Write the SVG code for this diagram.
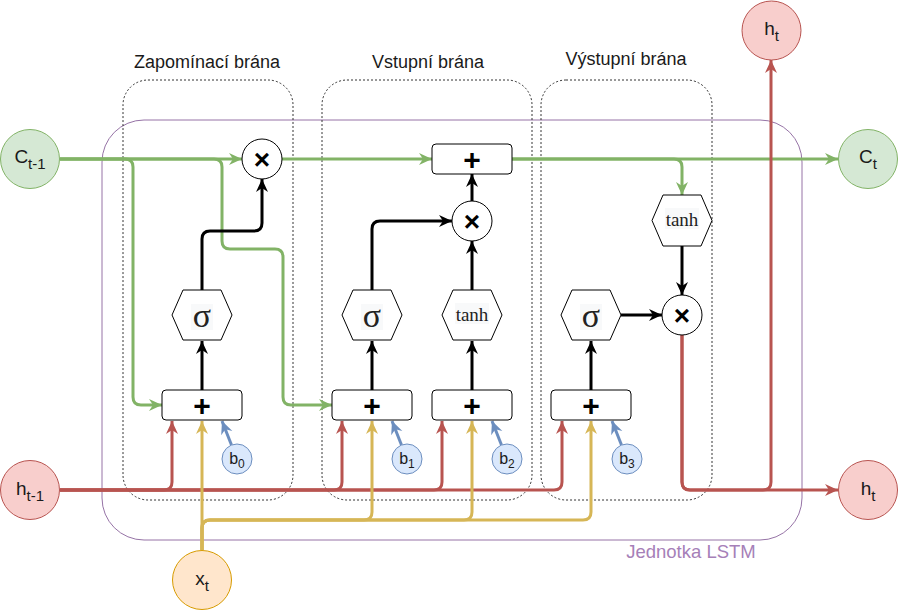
<svg xmlns="http://www.w3.org/2000/svg" width="899" height="611" viewBox="0 0 899 611">
<style>
.t{font-family:"Liberation Sans",Arial,sans-serif;fill:#1a1a1a}
.lbl{font-size:18px;text-anchor:middle}
.var{font-size:19px;text-anchor:middle}
.sub{font-size:15px}
.bias{font-size:16px;text-anchor:middle}
.bsub{font-size:12px}
.op{font-size:30px;font-weight:bold;text-anchor:middle;fill:#000}
.mul{font-size:28px;font-weight:bold;text-anchor:middle;fill:#000}
.ser{font-family:"Liberation Serif","Times New Roman",serif;fill:#222;text-anchor:middle}
.gate{fill:none;stroke:#333;stroke-width:1;stroke-dasharray:2 2}
.box{fill:#fff;stroke:#000;stroke-width:1}
.hex{fill:#fff;stroke:#000;stroke-width:1}
.bg{fill:#f8f9fa}
.e{fill:none;stroke-width:3;stroke-linejoin:round}
.g{stroke:#82b366}.k{stroke:#000}.r{stroke:#b85450}.y{stroke:#d6b656}.b{stroke:#6c8ebf}
</style>
<defs>
<marker id="ag" markerUnits="userSpaceOnUse" markerWidth="14" markerHeight="14" viewBox="0 0 14 14" refX="13" refY="7" orient="auto"><path d="M0,1 L13,7 L0,13 L4,7 z" fill="#82b366"/></marker>
<marker id="ak" markerUnits="userSpaceOnUse" markerWidth="14" markerHeight="14" viewBox="0 0 14 14" refX="13" refY="7" orient="auto"><path d="M0,1 L13,7 L0,13 L4,7 z" fill="#000"/></marker>
<marker id="ar" markerUnits="userSpaceOnUse" markerWidth="14" markerHeight="14" viewBox="0 0 14 14" refX="13" refY="7" orient="auto"><path d="M0,1 L13,7 L0,13 L4,7 z" fill="#b85450"/></marker>
<marker id="ay" markerUnits="userSpaceOnUse" markerWidth="14" markerHeight="14" viewBox="0 0 14 14" refX="13" refY="7" orient="auto"><path d="M0,1 L13,7 L0,13 L4,7 z" fill="#d6b656"/></marker>
<marker id="ab" markerUnits="userSpaceOnUse" markerWidth="14" markerHeight="14" viewBox="0 0 14 14" refX="13" refY="7" orient="auto"><path d="M0,1 L13,7 L0,13 L4,7 z" fill="#6c8ebf"/></marker>
</defs>
<rect width="899" height="611" fill="#fff"/>

<g id="lstm-unit">
<rect x="102" y="120" width="700" height="420" rx="42" fill="none" stroke="#9673a6" stroke-width="1"/>
<text class="t" x="691" y="558" font-size="18.5" text-anchor="middle" style="fill:#a680b8">Jednotka LSTM</text>
</g>
<g id="forget-gate">
<rect class="gate" x="123" y="80" width="170" height="420" rx="25"/>
<text class="t lbl" x="207" y="68">Zapomínací brána</text>
</g>
<g id="input-gate">
<rect class="gate" x="322" y="80" width="210" height="420" rx="25"/>
<text class="t lbl" x="428" y="68">Vstupní brána</text>
</g>
<g id="output-gate">
<rect class="gate" x="541" y="80" width="171" height="420" rx="25"/>
<text class="t lbl" x="626" y="65">Výstupní brána</text>
</g>

<g id="connectors">
<path class="e g" d="M60,159 H242" marker-end="url(#ag)"/>
<path class="e g" d="M60,159 H125 Q133,159 133,167 V397 Q133,405 141,405 H162" marker-end="url(#ag)"/>
<path class="e g" d="M60,159 H214 Q222,159 222,167 V241 Q222,249 230,249 H275 Q283,249 283,257 V397 Q283,405 291,405 H332" marker-end="url(#ag)"/>
<path class="e g" d="M282,159 H432" marker-end="url(#ag)"/>
<path class="e g" d="M512,159 H838" marker-end="url(#ag)"/>
<path class="e g" d="M512,159 H674 Q682,159 682,167 V195" marker-end="url(#ag)"/>

<path class="e k" d="M202,390 V341" marker-end="url(#ak)"/>
<path class="e k" d="M202,290 V239 Q202,231 210,231 H254 Q262,231 262,223 V179" marker-end="url(#ak)"/>
<path class="e k" d="M372,390 V341" marker-end="url(#ak)"/>
<path class="e k" d="M372,290 V229 Q372,221 380,221 H452" marker-end="url(#ak)"/>
<path class="e k" d="M472,390 V341" marker-end="url(#ak)"/>
<path class="e k" d="M472,290 V241" marker-end="url(#ak)"/>
<path class="e k" d="M472,201 V174" marker-end="url(#ak)"/>
<path class="e k" d="M591,390 V341" marker-end="url(#ak)"/>
<path class="e k" d="M621,315 H662" marker-end="url(#ak)"/>
<path class="e k" d="M682,246 V295" marker-end="url(#ak)"/>

<path class="e r" d="M60,490 H164 Q172,490 172,482 V421" marker-end="url(#ar)"/>
<path class="e r" d="M60,490 H334 Q342,490 342,482 V421" marker-end="url(#ar)"/>
<path class="e r" d="M60,490 H434 Q442,490 442,482 V421" marker-end="url(#ar)"/>
<path class="e r" d="M60,490 H554 Q562,490 562,482 V421" marker-end="url(#ar)"/>
<path class="e r" d="M682,335 V482 Q682,490 690,490 H838" marker-end="url(#ar)"/>
<path class="e r" d="M682,335 V482 Q682,490 690,490 H763 Q771,490 771,482 V60" marker-end="url(#ar)"/>

<path class="e y" d="M202,550 V421" marker-end="url(#ay)"/>
<path class="e y" d="M202,550 V528 Q202,520 210,520 H364 Q372,520 372,512 V421" marker-end="url(#ay)"/>
<path class="e y" d="M202,550 V528 Q202,520 210,520 H464 Q472,520 472,512 V421" marker-end="url(#ay)"/>
<path class="e y" d="M202,550 V528 Q202,520 210,520 H583 Q591,520 591,512 V421" marker-end="url(#ay)"/>

<path class="e b" d="M231.5,445 L222,421" marker-end="url(#ab)"/>
<path class="e b" d="M401.5,445 L392,421" marker-end="url(#ab)"/>
<path class="e b" d="M501.5,445 L492,421" marker-end="url(#ab)"/>
<path class="e b" d="M621.5,445 L612,421" marker-end="url(#ab)"/>
</g>

<g id="c-prev">
<circle cx="30" cy="159" r="29.5" fill="#d5e8d4" stroke="#82b366" stroke-width="1"/>
<text class="t var" x="30" y="163">C<tspan class="sub" dy="6">t-1</tspan></text>
</g>
<g id="h-prev">
<circle cx="30" cy="490" r="29.5" fill="#f8cecc" stroke="#b85450" stroke-width="1"/>
<text class="t var" x="30" y="495">h<tspan class="sub" dy="6">t-1</tspan></text>
</g>
<g id="x-t">
<circle cx="202" cy="580" r="29.5" fill="#ffe6cc" stroke="#d79b00" stroke-width="1"/>
<text class="t var" x="202" y="585">x<tspan class="sub" dy="6">t</tspan></text>
</g>
<g id="c-t">
<circle cx="868" cy="159" r="29.5" fill="#d5e8d4" stroke="#82b366" stroke-width="1"/>
<text class="t var" x="868" y="163">C<tspan class="sub" dy="6">t</tspan></text>
</g>
<g id="h-t-top">
<circle cx="771.5" cy="30.5" r="29.5" fill="#f8cecc" stroke="#b85450" stroke-width="1"/>
<text class="t var" x="771.5" y="35">h<tspan class="sub" dy="6">t</tspan></text>
</g>
<g id="h-t-right">
<circle cx="868" cy="490" r="29.5" fill="#f8cecc" stroke="#b85450" stroke-width="1"/>
<text class="t var" x="868" y="495">h<tspan class="sub" dy="6">t</tspan></text>
</g>

<g id="forget-mul">
<circle cx="262" cy="159" r="20" class="box"/>
<text class="t mul" x="262" y="168.5">×</text>
</g>
<g id="cell-add">
<rect class="box" x="432" y="144" width="80" height="30" rx="4"/>
<text class="t op" x="472" y="169.5">+</text>
</g>
<g id="input-mul">
<circle cx="472" cy="221" r="20" class="box"/>
<text class="t mul" x="472" y="230.5">×</text>
</g>
<g id="out-tanh">
<polygon class="hex" points="652,220.5 663,195 701,195 712,220.5 701,246 663,246"/>
<rect class="bg" x="665" y="208" width="34" height="21"/>
<text class="ser" x="682" y="226" font-size="19">tanh</text>
</g>
<g id="output-mul">
<circle cx="682" cy="315" r="20" class="box"/>
<text class="t mul" x="682" y="324.5">×</text>
</g>

<g id="forget-sigma">
<polygon class="hex" points="172,315 183,290 221,290 232,315 221,340 183,340"/>
<rect class="bg" x="191" y="304" width="22" height="26"/>
<text class="ser" x="202" y="327" font-size="34">σ</text>
</g>
<g id="input-sigma">
<polygon class="hex" points="342,315 353,290 391,290 402,315 391,340 353,340"/>
<rect class="bg" x="361" y="304" width="22" height="26"/>
<text class="ser" x="372" y="327" font-size="34">σ</text>
</g>
<g id="input-tanh">
<polygon class="hex" points="442,315 453,290 491,290 502,315 491,340 453,340"/>
<rect class="bg" x="455" y="303" width="34" height="21"/>
<text class="ser" x="472" y="321" font-size="19">tanh</text>
</g>
<g id="output-sigma">
<polygon class="hex" points="561,315 572,290 610,290 621,315 610,340 572,340"/>
<rect class="bg" x="580" y="304" width="22" height="26"/>
<text class="ser" x="591" y="327" font-size="34">σ</text>
</g>

<g id="forget-add">
<rect class="box" x="162" y="390" width="80" height="30" rx="4"/>
<text class="t op" x="202" y="415.5">+</text>
</g>
<g id="input-add">
<rect class="box" x="332" y="390" width="80" height="30" rx="4"/>
<text class="t op" x="372" y="415.5">+</text>
</g>
<g id="tanh-add">
<rect class="box" x="432" y="390" width="80" height="30" rx="4"/>
<text class="t op" x="472" y="415.5">+</text>
</g>
<g id="output-add">
<rect class="box" x="551" y="390" width="80" height="30" rx="4"/>
<text class="t op" x="591" y="415.5">+</text>
</g>

<g id="b0">
<circle cx="237" cy="459" r="15" fill="#dae8fc" stroke="#6c8ebf" stroke-width="1"/>
<text class="t bias" x="237" y="464">b<tspan class="bsub" dy="4">0</tspan></text>
</g>
<g id="b1">
<circle cx="407" cy="459" r="15" fill="#dae8fc" stroke="#6c8ebf" stroke-width="1"/>
<text class="t bias" x="407" y="464">b<tspan class="bsub" dy="4">1</tspan></text>
</g>
<g id="b2">
<circle cx="507" cy="459" r="15" fill="#dae8fc" stroke="#6c8ebf" stroke-width="1"/>
<text class="t bias" x="507" y="464">b<tspan class="bsub" dy="4">2</tspan></text>
</g>
<g id="b3">
<circle cx="627" cy="459" r="15" fill="#dae8fc" stroke="#6c8ebf" stroke-width="1"/>
<text class="t bias" x="627" y="464">b<tspan class="bsub" dy="4">3</tspan></text>
</g>
</svg>
